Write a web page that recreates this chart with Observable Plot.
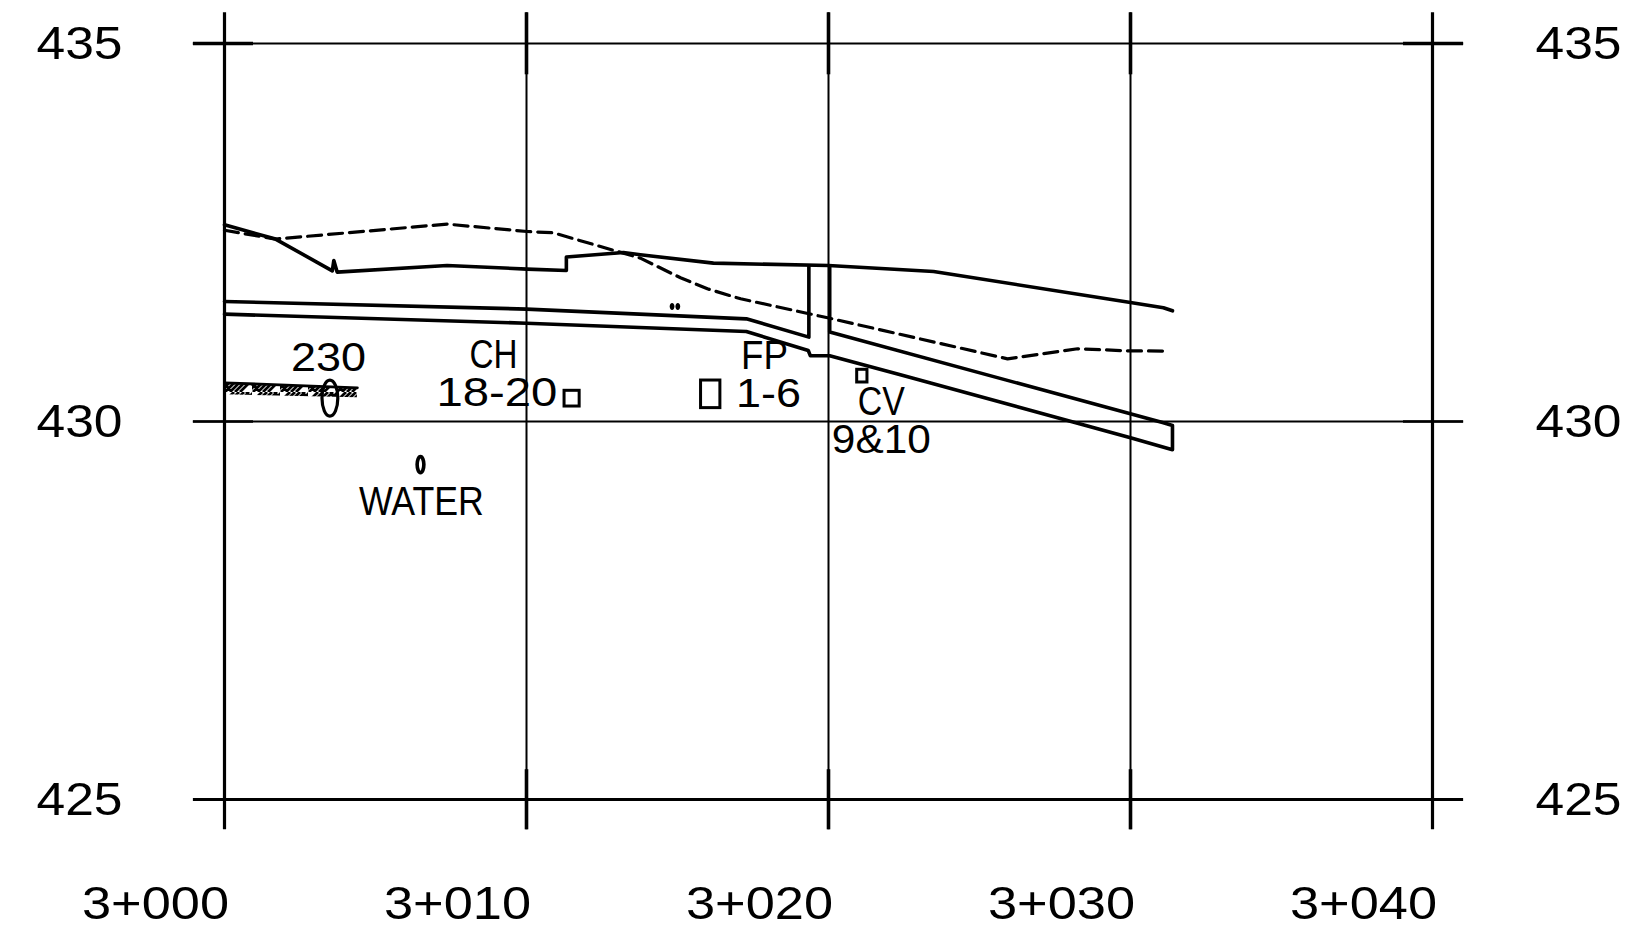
<!DOCTYPE html>
<html>
<head>
<meta charset="utf-8">
<script src="https://cdn.jsdelivr.net/npm/d3@7"></script>
<script src="https://cdn.jsdelivr.net/npm/@observablehq/plot@0.6"></script>
<style>
html,body{margin:0;padding:0;background:#fff}
svg{display:block}
</style>
</head>
<body>
<div id="chart"></div>
<script>
const stationTicks = [3000, 3010, 3020, 3030, 3040];
const elevationTicks = [425, 430, 435];
const outerStations = [3000, 3040];
const innerStations = [3010, 3020, 3030];

const existingX = [3000, 3001.69, 3007.37, 3010.02, 3010.89, 3013.77, 3015.10, 3015.99, 3017.09, 3019.97, 3025.93, 3028.25, 3029.90, 3031.23];
const existingY = [432.53, 432.413, 432.611, 432.513, 432.496, 432.161, 431.901, 431.755, 431.623, 431.372, 430.829, 430.962, 430.935, 430.931];

const finishX = [3000, 3001.69, 3003.57, 3003.62, 3003.73, 3007.37, 3010.02, 3011.32, 3011.32, 3013.21, 3013.77, 3016.19, 3020.0, 3023.48, 3030.0, 3031.09, 3031.39];
const finishY = [432.602, 432.413, 431.993, 432.130, 431.976, 432.064, 432.016, 431.997, 432.175, 432.235, 432.205, 432.095, 432.063, 431.984, 431.574, 431.504, 431.464];

const upperX = [3000, 3010, 3017.28, 3019.35, 3019.35];
const upperY = [431.587, 431.487, 431.358, 431.116, 432.050];

const lowerX = [3020.04, 3020.04, 3031.09, 3031.39, 3031.39, 3030, 3022.38, 3020.04, 3019.40, 3019.33, 3017.28, 3010, 3000];
const lowerY = [432.050, 431.183, 429.983, 429.947, 429.626, 429.785, 430.618, 430.869, 430.869, 430.939, 431.19, 431.30, 431.42];

const hatchX = [3000, 3004.40];
const hatchTop = [430.512, 430.446];
const hatchBottom = [430.353, 430.314];

const labelText = ["230", "CH", "18-20", "WATER", "FP", "1-6", "CV", "9&10"];
const labelX = [3003.44, 3008.91, 3009.02, 3006.52, 3017.88, 3018.01, 3021.75, 3021.75];
const labelY = [430.832, 430.878, 430.369, 428.938, 430.865, 430.360, 430.250, 429.754];

const boxX1 = [3011.26, 3015.78, 3020.95];
const boxX2 = [3011.76, 3016.42, 3021.29];
const boxY1 = [430.198, 430.177, 430.516];
const boxY2 = [430.406, 430.542, 430.684];

const dotX = [3014.82, 3015.01];
const dotY = [431.521, 431.521];

const textWidths = {
  "230": 75, "CH": 48, "18-20": 121, "WATER": 125, "FP": 47, "1-6": 65, "CV": 47, "9&10": 99,
  "435": 86, "430": 86, "425": 86,
  "3+000": 147, "3+010": 147, "3+020": 147, "3+030": 147, "3+040": 147
};

const ellipse = (k) => ({
  draw(ctx, size) {
    const ry = Math.sqrt(size / Math.PI), rx = ry * k, c = 0.5523;
    ctx.moveTo(0, -ry);
    ctx.bezierCurveTo(c * rx, -ry, rx, -c * ry, rx, 0);
    ctx.bezierCurveTo(rx, c * ry, c * rx, ry, 0, ry);
    ctx.bezierCurveTo(-c * rx, ry, -rx, c * ry, -rx, 0);
    ctx.bezierCurveTo(-rx, -c * ry, -c * rx, -ry, 0, -ry);
    ctx.closePath();
  }
});

const hatchDefs = () => {
  const defs = d3.create("svg:defs");
  const p = defs.append("pattern").attr("id", "hatch").attr("patternUnits", "userSpaceOnUse")
    .attr("width", 28).attr("height", 14);
  p.append("path").attr("fill", "none").attr("stroke", "#000").attr("stroke-width", 2.8)
    .attr("d", "M-4 14L10 0M1 14L15 0M6 14L20 0M11 14L25 0M16 14L30 0M22 0L36 14M-6 0L8 14");
  return defs.node();
};

const fatTopY = 435.406, fatBottomY = 424.599, fatInnerTop = 434.586, fatInnerBottom = 425.394;
const tickL1 = 2998.97, tickL2 = 3000.96, tickR1 = 3039.04, tickR2 = 3041.03;

const plot = Plot.plot({
  width: 1625,
  height: 937,
  marginLeft: 224,
  marginRight: 193,
  marginTop: 43,
  marginBottom: 138,
  x: {domain: [3000, 3040]},
  y: {domain: [425, 435]},
  style: {fontFamily: "Liberation Sans", background: "#fff", color: "#000"},
  marks: [
    hatchDefs,
    Plot.ruleY([425], {x1: tickL1, x2: tickR2, stroke: "#000", strokeWidth: 3}),
    Plot.ruleY([430, 435], {x1: tickL1, x2: tickR2, stroke: "#000", strokeWidth: 2}),
    Plot.ruleY([435], {x1: tickL1, x2: tickL2, stroke: "#000", strokeWidth: 3.6}),
    Plot.ruleY([435], {x1: tickR1, x2: tickR2, stroke: "#000", strokeWidth: 3.6}),
    Plot.ruleY([430], {x1: tickL1, x2: tickL2, stroke: "#000", strokeWidth: 2.6}),
    Plot.ruleY([430], {x1: tickR1, x2: tickR2, stroke: "#000", strokeWidth: 2.6}),
    Plot.ruleX(outerStations, {y1: fatBottomY, y2: fatTopY, stroke: "#000", strokeWidth: 3.2}),
    Plot.ruleX(innerStations, {y1: fatBottomY, y2: fatTopY, stroke: "#000", strokeWidth: 2}),
    Plot.ruleX(innerStations, {y1: fatInnerTop, y2: fatTopY, stroke: "#000", strokeWidth: 3.6}),
    Plot.ruleX(innerStations, {y1: fatBottomY, y2: fatInnerBottom, stroke: "#000", strokeWidth: 3.6}),

    Plot.areaY(hatchX, {x: hatchX, y1: hatchBottom, y2: hatchTop, fill: "url(#hatch)"}),
    Plot.line(hatchX, {x: hatchX, y: hatchTop, stroke: "#000", strokeWidth: 2.8}),

    Plot.line(existingX, {x: existingX, y: existingY, stroke: "#000", strokeWidth: 3.2, strokeDasharray: "14,7"}),
    Plot.line(finishX, {x: finishX, y: finishY, stroke: "#000", strokeWidth: 3.6}),
    Plot.line(upperX, {x: upperX, y: upperY, stroke: "#000", strokeWidth: 3.6}),
    Plot.line(lowerX, {x: lowerX, y: lowerY, stroke: "#000", strokeWidth: 3.6}),

    Plot.rect(boxX1, {x1: boxX1, x2: boxX2, y1: boxY1, y2: boxY2, fill: "none", stroke: "#000", strokeWidth: 3}),
    Plot.dot([0], {x: [3003.49], y: [430.31], r: 18, symbol: ellipse(0.44), stroke: "#000", strokeWidth: 3.2, fill: "none"}),
    Plot.dot([0], {x: [3006.49], y: [429.43], r: 8, symbol: ellipse(0.42), stroke: "#000", strokeWidth: 3.6, fill: "none"}),
    Plot.dot(dotX, {x: dotX, y: dotY, r: 3.4, symbol: ellipse(0.7), fill: "#000", stroke: "none"}),

    Plot.text(labelText, {x: labelX, y: labelY, text: labelText, fontSize: 40, fill: "#000", textAnchor: "middle", lineAnchor: "middle"}),

    Plot.axisX({ticks: stationTicks, tickSize: 0, tickPadding: 86, fontSize: 47, dx: -69, label: null, lineAnchor: "top", tickFormat: d => `3+${String(d - 3000).padStart(3, "0")}`, fill: "#000"}),
    Plot.axisY({anchor: "left", ticks: elevationTicks, tickSize: 0, tickPadding: 102, fontSize: 47, label: null, tickFormat: String, fill: "#000"}),
    Plot.axisY({anchor: "right", ticks: elevationTicks, tickSize: 0, tickPadding: 103, fontSize: 47, label: null, tickFormat: String, fill: "#000"})
  ]
});

d3.select(plot).selectAll("text, tspan").each(function () {
  const w = textWidths[this.textContent.trim()];
  if (w) {
    this.setAttribute("textLength", w);
    this.setAttribute("lengthAdjust", "spacingAndGlyphs");
  }
});

document.getElementById("chart").appendChild(plot);
</script>
</body>
</html>
